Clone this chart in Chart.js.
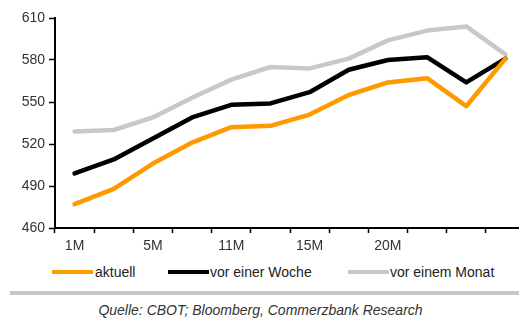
<!DOCTYPE html>
<html>
<head>
<meta charset="utf-8">
<script src="https://cdn.jsdelivr.net/npm/chart.js@4"></script>
<style>
  html, body { margin: 0; padding: 0; background: #fff; overflow: hidden; width: 519px; height: 322px; }
  #wrap { position: absolute; left: 0; top: 0; width: 530px; height: 252px; }
  .lg { position: absolute; top: 263px; height: 18px; font: 14px "Liberation Sans", Arial, sans-serif; color: #222; white-space: nowrap; }
  .lg i { position: absolute; top: 7px; width: 41px; height: 4px; }
  .lg span { position: absolute; top: 1px; }
  #sep { position: absolute; left: 10px; top: 291px; width: 509px; height: 4px; background: #c8c8c8; }
  #src { position: absolute; left: 0; top: 302px; width: 519px; text-align: center; font: italic 14px "Liberation Sans", Arial, sans-serif; color: #333; padding-left: 1px; }
</style>
</head>
<body>
<div id="wrap"><canvas id="chart"></canvas></div>

<div class="lg" style="left:52px"><i style="left:0;background:#ff9900"></i><span style="left:43px">aktuell</span></div>
<div class="lg" style="left:168px"><i style="left:0;background:#000"></i><span style="left:42px">vor einer Woche</span></div>
<div class="lg" style="left:348px"><i style="left:0;background:#c8c8c8"></i><span style="left:42px">vor einem Monat</span></div>
<div id="sep"></div>
<div id="src">Quelle: CBOT; Bloomberg, Commerzbank Research</div>

<script>
/* ---- data ---- */
const xLabels = ['1M', '', '5M', '', '11M', '', '15M', '', '20M', '', '', ''];
const aktuell = [477, 488, 506, 521, 532, 533, 541, 555, 564, 567, 547, 581];
const vorWoche = [499, 509, 524, 539, 548, 549, 557, 573, 580, 582, 564, 581];
const vorMonat = [529, 530, 539, 553, 566, 575, 574, 581, 594, 601, 604, 584];
const yTicks = [460, 490, 520, 550, 580, 610];

const C_ORANGE = '#ff9900';
const C_BLACK  = '#000000';
const C_GREY   = '#c8c8c8';
const tickFont = { family: 'Liberation Sans', size: 14 };

function line(label, data, color) {
  return {
    label, data,
    borderColor: color, backgroundColor: color,
    borderWidth: 4.5, pointRadius: 0, tension: 0,
    borderJoinStyle: 'round', borderCapStyle: 'round', fill: false
  };
}

new Chart(document.getElementById('chart'), {
  type: 'line',
  data: {
    labels: xLabels,
    datasets: [
      line('aktuell', aktuell, C_ORANGE),
      line('vor einer Woche', vorWoche, C_BLACK),
      line('vor einem Monat', vorMonat, C_GREY)
    ]
  },
  options: {
    responsive: true, maintainAspectRatio: false, animation: false,
    layout: { padding: { top: 18, right: 5, left: 0, bottom: 0 } },
    plugins: { legend: { display: false }, tooltip: { enabled: false } },
    scales: {
      x: {
        offset: true,
        grid: { offset: true, drawOnChartArea: false, drawTicks: true, tickLength: 5, tickColor: '#000', tickWidth: 1.5 },
        border: { color: '#000', width: 2 },
        ticks: { autoSkip: false, maxRotation: 0, color: '#333', font: tickFont, padding: 5 },
        afterFit: s => { s.height = 24; }
      },
      y: {
        min: yTicks[0], max: yTicks[yTicks.length - 1],
        afterBuildTicks: s => { s.ticks = yTicks.map(v => ({ value: v })); },
        grid: { drawOnChartArea: false, drawTicks: true, tickLength: 6, tickColor: '#000', tickWidth: 1.5 },
        border: { color: '#000', width: 2 },
        ticks: { color: '#333', font: tickFont, padding: 4 },
        afterFit: s => { s.width = 55; }
      }
    }
  }
});
</script>
</body>
</html>
